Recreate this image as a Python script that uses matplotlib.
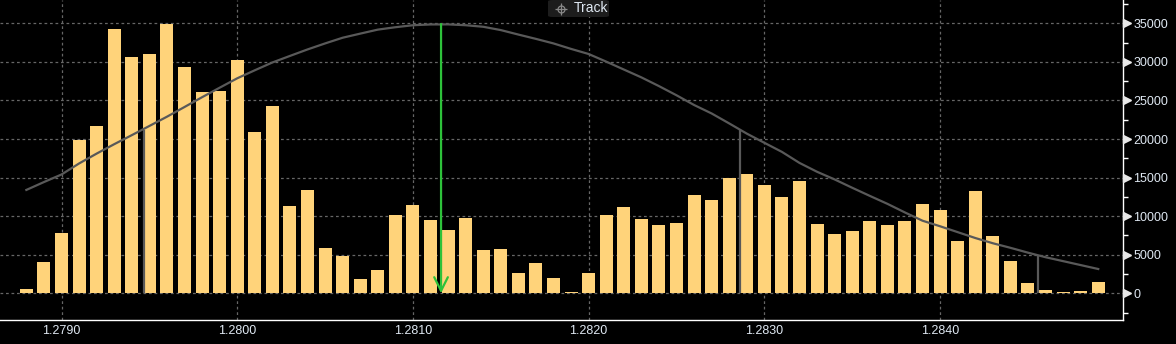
import matplotlib
matplotlib.use("Agg")
import matplotlib.pyplot as plt
from matplotlib.ticker import MultipleLocator, FixedLocator, FuncFormatter
from matplotlib.transforms import ScaledTranslation
from matplotlib.patches import FancyBboxPatch
from matplotlib.lines import Line2D

# ---- data ----
bar_prices = [1.2788, 1.2789, 1.2790, 1.2791, 1.2792, 1.2793, 1.2794, 1.2795, 1.2796, 1.2797,
              1.2798, 1.2799, 1.2800, 1.2801, 1.2802, 1.2803, 1.2804, 1.2805, 1.2806, 1.2807,
              1.2808, 1.2809, 1.2810, 1.2811, 1.2812, 1.2813, 1.2814, 1.2815, 1.2816, 1.2817,
              1.2818, 1.2819, 1.2820, 1.2821, 1.2822, 1.2823, 1.2824, 1.2825, 1.2826, 1.2827,
              1.2828, 1.2829, 1.2830, 1.2831, 1.2832, 1.2833, 1.2834, 1.2835, 1.2836, 1.2837,
              1.2838, 1.2839, 1.2840, 1.2841, 1.2842, 1.2843, 1.2844, 1.2845, 1.2846, 1.2847,
              1.2848, 1.2849]
volumes = [560, 4060, 7800, 19900, 21700, 34300, 30600, 31000, 34900, 29300,
           26100, 26200, 30200, 20900, 24300, 11300, 13400, 5900, 4800, 1900,
           3000, 10200, 11500, 9500, 8200, 9800, 5600, 5700, 2600, 3900,
           2000, 170, 2600, 10200, 11200, 9600, 8900, 9100, 12700, 12100,
           15000, 15500, 14000, 12500, 14600, 9000, 7700, 8100, 9400, 8900,
           9400, 11600, 10800, 6800, 13300, 7400, 4200, 1300, 430, 170,
           300, 1500]
curve = [13400, 14420, 15400, 16830, 18110, 19330, 20500, 21690, 22890, 24150,
         25420, 26650, 27870, 28910, 29920, 30770, 31610, 32390, 33130, 33660,
         34180, 34490, 34750, 34850, 34860, 34750, 34550, 34120, 33540, 32980,
         32390, 31680, 31020, 30030, 29010, 27990, 26860, 25670, 24410, 23310,
         22020, 20700, 19510, 18330, 16900, 15750, 14760, 13680, 12630, 11600,
         10480, 9410, 8690, 7930, 7170, 6490, 5900, 5270, 4680, 4170,
         3660, 3150]
mean_price = 1.28116
mean_height = 34900
sigma_prices = [1.27947, 1.28286, 1.28456]
sigma_heights = [21200, 21200, 4840]
x_ticks = [1.2790, 1.2800, 1.2810, 1.2820, 1.2830, 1.2840]
y_ticks = [0, 5000, 10000, 15000, 20000, 25000, 30000, 35000]
legend_label = "Track"

# ---- style ----
BG = "black"
BAR = "#FFD37A"
GRID = "#666666"
CURVE = "#595959"
GREEN = "#2DC23A"
TXT = "#dfe8f2"
FONT = ["Liberation Sans", "DejaVu Sans"]
plt.rcParams["font.family"] = FONT

fig = plt.figure(figsize=(11.76, 3.44), dpi=100, facecolor=BG)
ax = fig.add_axes([0.0, 24 / 344, 1123 / 1176, 320 / 344])
ax.set_facecolor(BG)

ax.bar(bar_prices, volumes, width=0.000074, color=BAR, zorder=2)
ax.plot(bar_prices, curve, color=CURVE, lw=1.6, zorder=3, solid_joinstyle="round")
ax.vlines(sigma_prices, 0, sigma_heights, color=CURVE, lw=1.6, zorder=3)
ax.annotate("", xy=(mean_price, 0), xytext=(mean_price, mean_height),
            arrowprops=dict(arrowstyle="->,head_length=0.7,head_width=0.35",
                            color=GREEN, lw=1.6, shrinkA=0, shrinkB=0,
                            mutation_scale=14),
            zorder=4)

ax.set_xlim(1.27865, 1.285041)
ax.set_ylim(-3460, 38020)

# grid
ax.xaxis.set_major_locator(FixedLocator(x_ticks))
ax.yaxis.set_major_locator(FixedLocator(y_ticks))
ax.yaxis.set_minor_locator(MultipleLocator(2500))
ax.grid(True, which="major", color=GRID, lw=0.9, linestyle=(0, (2.2, 2.2)), zorder=1)

# spines
for s in ["left", "top"]:
    ax.spines[s].set_visible(False)
for s in ["right", "bottom"]:
    ax.spines[s].set_color("white")
    ax.spines[s].set_linewidth(1.0)

ax.xaxis.set_major_formatter(FuncFormatter(lambda v, p: f"{v:.4f}"))
ax.tick_params(axis="x", which="both", length=0, pad=3.5, colors=TXT, labelsize=9)
ax.yaxis.tick_right()
ax.tick_params(axis="y", which="major", length=0, pad=7.3, colors=TXT, labelsize=9)
ax.tick_params(axis="y", which="minor", length=3.3, width=1.0, color="white", direction="out")

# triangle markers for major y ticks
tri_tr = ax.get_yaxis_transform() + ScaledTranslation(4.2 / 100, 0, fig.dpi_scale_trans)
ax.plot([1.0] * len(y_ticks), y_ticks, linestyle="none", marker=">", ms=5.5,
        color="#e8e8e8", transform=tri_tr, clip_on=False, zorder=5)

# Track button
box = FancyBboxPatch((548 / 1176, 1 - 17 / 344), 61 / 1176, 17 / 344,
                     boxstyle="round,pad=0,rounding_size=0.004",
                     transform=fig.transFigure, facecolor="#1d1d1d",
                     edgecolor="none", zorder=10)
fig.patches.append(box)
icon_x, icon_y = 561 / 1176, 1 - 8.5 / 344
fig.lines.append(Line2D([icon_x], [icon_y], transform=fig.transFigure, marker="o",
                        ms=5, mfc="none", mec="#8a8a8a", mew=0.9, linestyle="none", zorder=11))
fig.lines.append(Line2D([icon_x], [icon_y], transform=fig.transFigure, marker="+",
                        ms=9, mec="#8a8a8a", mew=0.9, linestyle="none", zorder=11))
fig.text(574 / 1176, 1 - 8.5 / 344, legend_label, color=TXT, fontsize=10,
         ha="left", va="center", zorder=12)

fig.savefig("out.png", dpi=100, facecolor=BG)
